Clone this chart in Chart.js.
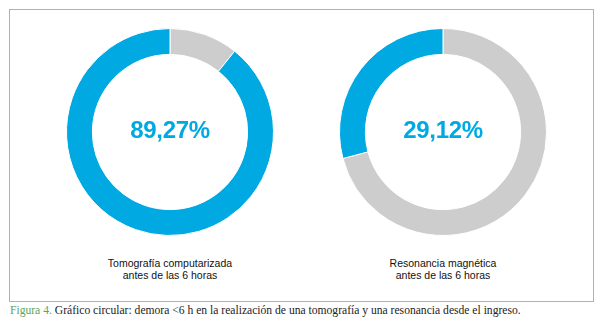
<!DOCTYPE html>
<html>
<head>
<meta charset="utf-8">
<script src="https://cdn.jsdelivr.net/npm/chart.js@4"></script>
<style>
  html, body { margin: 0; padding: 0; background: #fff; }
  #page { position: relative; width: 605px; height: 329px; overflow: hidden; }
  #frame { position: absolute; left: 9px; top: 9px; width: 583px; height: 291px; border: 1.5px solid #8ec98e; }
  .donut { position: absolute; top: 28px; width: 208px; height: 208px; }
  .pct { position: absolute; width: 208px; text-align: center; top: 116px;
         font: bold 24px "Liberation Sans", Arial, sans-serif; color: #00a9e2; letter-spacing: -0.3px; }
  .lbl { position: absolute; width: 208px; text-align: center; top: 257px;
         font: 10.5px/12px "Liberation Sans", Arial, sans-serif; color: #111; }
  #caption { position: absolute; left: 10px; top: 304px; white-space: nowrap;
             font: 11.6px "Liberation Serif", "Times New Roman", serif; color: #222; }
  #caption b { color: #5aa55a; font-weight: normal; }
</style>
</head>
<body>
<div id="page">
  <div id="frame"></div>
  <div id="charts"></div>
  <div id="caption"><b>Figura 4.</b> Gráfico circular: demora &lt;6 h en la realización de una tomografía y una resonancia desde el ingreso.</div>
</div>
<script>
const categories = ['Tomografía computarizada', 'Resonancia magnética'];
const subtitle = 'antes de las 6 horas';
const before6h = [89.27, 29.12];
const after6h = [10.73, 70.88];
const pctLabels = ['89,27%', '29,12%'];

const centersX = [170, 443];
const blue = '#00a9e2';
const grey = '#cdcdcd';

const holder = document.getElementById('charts');

categories.forEach((name, i) => {
    const left = centersX[i] - 104;

    const box = document.createElement('div');
    box.className = 'donut';
    box.style.left = left + 'px';
    const canvas = document.createElement('canvas');
    box.appendChild(canvas);
    holder.appendChild(box);

    const pct = document.createElement('div');
    pct.className = 'pct';
    pct.style.left = left + 'px';
    pct.textContent = pctLabels[i];
    holder.appendChild(pct);

    const lbl = document.createElement('div');
    lbl.className = 'lbl';
    lbl.style.left = left + 'px';
    lbl.innerHTML = name + '<br>' + subtitle;
    holder.appendChild(lbl);

    new Chart(canvas.getContext('2d'), {
        type: 'doughnut',
        data: {
            labels: ['Después de 6 horas', 'Antes de 6 horas'],
            datasets: [{
                data: [after6h[i], before6h[i]],
                backgroundColor: [grey, blue],
                borderColor: '#ffffff',
                borderWidth: 1
            }]
        },
        options: {
            responsive: true,
            maintainAspectRatio: false,
            animation: false,
            cutout: '75%',
            layout: { padding: 0 },
            plugins: {
                legend: { display: false },
                tooltip: { enabled: false }
            }
        }
    });
});
</script>
</body>
</html>
